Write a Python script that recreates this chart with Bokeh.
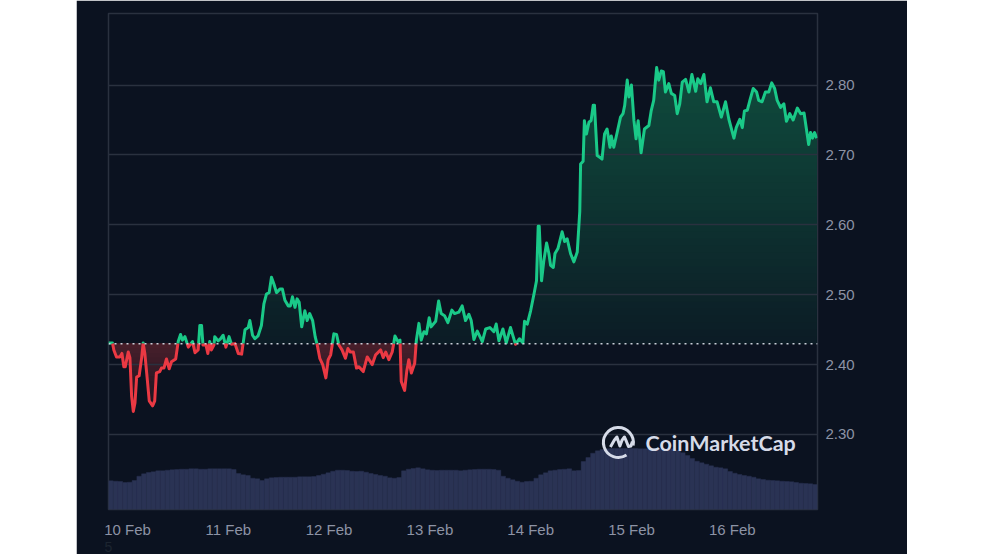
import numpy as np
import pandas as pd
from bokeh.embed import file_html
from bokeh.models import FixedTicker, Label, NumeralTickFormatter, Range1d, Span
from bokeh.plotting import figure
from bokeh.resources import INLINE

# Price: hours since the first sample, and price in USD
hours = [
    0.0, 0.95, 1.27, 1.9, 2.7, 3.2, 3.65, 4.0, 4.7, 5.1, 5.5, 5.9, 6.3, 6.7, 7.3, 7.9, 8.25, 8.65, 9.2, 9.7,
    10.5, 11.0, 11.4, 12.2, 12.6, 13.2, 13.8, 14.45, 15.0, 16.0, 16.6, 17.15, 17.6, 18.2, 19.0, 19.5, 20.0,
    20.6, 21.35, 21.75, 22.15, 22.5, 23.2, 23.65, 24.1, 24.5, 25.1, 25.3, 26.1, 26.7, 27.3, 27.95, 28.7,
    29.3, 30.1, 30.9, 31.7, 32.5, 33.25, 33.65, 34.3, 34.85, 35.6, 36.4, 37.0, 37.6, 38.25, 38.8, 39.4,
    40.0, 40.8, 41.4, 42.0, 42.8, 43.3, 43.8, 44.4, 44.9, 45.4, 46.0, 46.75, 47.3, 47.9, 48.6, 49.2, 49.7,
    50.3, 51.0, 51.75, 52.3, 52.9, 53.26, 53.65, 54.3, 54.85, 55.6, 56.4, 57.0, 57.6, 58.3, 59.05, 59.6,
    60.65, 61.6, 62.8, 63.6, 64.8, 65.4, 66.0, 66.75, 67.55, 68.2, 68.9, 69.4, 69.7, 70.5, 71.0, 71.5,
    72.1, 72.9, 73.3, 73.9, 74.45, 75.1, 75.7, 76.35, 76.8, 77.9, 78.6, 79.2, 80.0, 80.8, 81.75, 82.4,
    83.4, 84.2, 85.0, 85.8, 86.35, 87.0, 87.8, 89.0, 89.8, 90.8, 91.75, 92.3, 92.95, 93.9, 94.7, 95.7,
    96.9, 97.85, 98.65, 99.05, 99.7, 100.5, 101.3, 101.9, 102.3, 102.55, 103.1, 103.65, 104.3, 104.85,
    105.25, 105.9, 106.3, 107.0, 108.0, 108.6, 109.2, 110.0, 110.8, 111.6, 112.2, 112.4, 113.0, 113.3,
    113.8, 114.4, 114.9, 115.4, 115.7, 116.35, 117.1, 117.5, 118.1, 118.7, 119.4, 119.7, 120.3, 121.1,
    121.9, 122.5, 122.9, 123.5, 123.9, 124.5, 125.1, 125.6, 126.1, 126.8, 127.6, 128.65, 129.2, 129.8,
    130.5, 131.0, 131.6, 132.1, 132.6, 133.4, 134.0, 134.8, 135.4, 136.0, 136.6, 137.4, 138.2, 138.9,
    139.8, 140.3, 141.0, 141.75, 142.5, 143.3, 144.1, 144.9, 145.9, 146.9, 147.7, 148.9, 149.45, 150.3,
    150.9, 151.4, 152.1, 152.7, 153.5, 154.3, 154.8, 155.6, 156.4, 157.2, 157.9, 158.6, 159.2, 160.0,
    160.8, 161.4, 162.2, 163.0, 164.0, 164.8, 165.6, 166.7, 167.15, 167.6, 168.1, 168.6,
]
prices = [
    2.431, 2.431, 2.421, 2.411, 2.411, 2.416, 2.397, 2.397, 2.418, 2.410, 2.355, 2.333, 2.345, 2.382, 2.384,
    2.410, 2.431, 2.416, 2.381, 2.348, 2.341, 2.348, 2.388, 2.390, 2.395, 2.395, 2.408, 2.394, 2.404, 2.408,
    2.433, 2.443, 2.435, 2.440, 2.425, 2.429, 2.433, 2.417, 2.421, 2.456, 2.456, 2.428, 2.428, 2.416, 2.433,
    2.421, 2.428, 2.440, 2.434, 2.437, 2.442, 2.425, 2.440, 2.429, 2.430, 2.416, 2.415, 2.450, 2.453, 2.463,
    2.442, 2.437, 2.441, 2.456, 2.487, 2.501, 2.503, 2.525, 2.515, 2.503, 2.508, 2.508, 2.492, 2.484, 2.484,
    2.497, 2.482, 2.494, 2.489, 2.454, 2.477, 2.463, 2.473, 2.463, 2.440, 2.428, 2.409, 2.400, 2.381, 2.407,
    2.414, 2.428, 2.444, 2.443, 2.428, 2.421, 2.409, 2.423, 2.418, 2.418, 2.395, 2.397, 2.390, 2.411, 2.400,
    2.414, 2.421, 2.410, 2.418, 2.407, 2.418, 2.441, 2.433, 2.435, 2.376, 2.363, 2.390, 2.407, 2.388, 2.402,
    2.435, 2.459, 2.435, 2.447, 2.444, 2.467, 2.454, 2.462, 2.491, 2.473, 2.470, 2.460, 2.478, 2.473, 2.475,
    2.484, 2.463, 2.472, 2.463, 2.436, 2.448, 2.433, 2.451, 2.453, 2.447, 2.458, 2.434, 2.451, 2.431, 2.453,
    2.429, 2.437, 2.431, 2.462, 2.458, 2.477, 2.501, 2.520, 2.598, 2.598, 2.520, 2.549, 2.574, 2.559, 2.542,
    2.539, 2.559, 2.566, 2.590, 2.576, 2.580, 2.559, 2.547, 2.561, 2.619, 2.687, 2.691, 2.749, 2.730, 2.747,
    2.749, 2.771, 2.771, 2.699, 2.696, 2.694, 2.730, 2.737, 2.711, 2.727, 2.711, 2.732, 2.754, 2.759, 2.771,
    2.807, 2.783, 2.800, 2.749, 2.723, 2.749, 2.703, 2.737, 2.742, 2.763, 2.778, 2.825, 2.807, 2.820, 2.819,
    2.790, 2.802, 2.788, 2.785, 2.759, 2.773, 2.804, 2.808, 2.790, 2.815, 2.791, 2.809, 2.802, 2.815, 2.776,
    2.796, 2.776, 2.776, 2.754, 2.776, 2.751, 2.724, 2.739, 2.751, 2.739, 2.763, 2.764, 2.778, 2.795, 2.790,
    2.778, 2.776, 2.790, 2.790, 2.803, 2.795, 2.778, 2.768, 2.773, 2.748, 2.759, 2.750, 2.767, 2.759, 2.760,
    2.715, 2.732, 2.724, 2.732, 2.724,
]

# Volume bars, evenly spaced over the week (relative scale, the axis is hidden)
volumes = [
    0.287, 0.283, 0.280, 0.270, 0.273, 0.290, 0.333, 0.357, 0.370, 0.377, 0.387, 0.387, 0.393, 0.397, 0.400,
    0.403, 0.403, 0.407, 0.407, 0.403, 0.403, 0.407, 0.407, 0.407, 0.407, 0.407, 0.400, 0.360, 0.347, 0.340,
    0.313, 0.307, 0.290, 0.307, 0.317, 0.320, 0.323, 0.323, 0.323, 0.323, 0.327, 0.327, 0.327, 0.330, 0.340,
    0.353, 0.367, 0.383, 0.393, 0.393, 0.390, 0.383, 0.380, 0.383, 0.373, 0.360, 0.350, 0.340, 0.333, 0.317,
    0.313, 0.320, 0.387, 0.403, 0.410, 0.417, 0.407, 0.397, 0.393, 0.390, 0.393, 0.393, 0.393, 0.393, 0.387,
    0.393, 0.397, 0.400, 0.403, 0.403, 0.403, 0.400, 0.393, 0.333, 0.313, 0.297, 0.283, 0.273, 0.280, 0.283,
    0.313, 0.347, 0.367, 0.387, 0.393, 0.400, 0.403, 0.407, 0.387, 0.390, 0.480, 0.520, 0.563, 0.587, 0.600,
    0.607, 0.610, 0.610, 0.610, 0.610, 0.610, 0.610, 0.607, 0.607, 0.607, 0.607, 0.607, 0.607, 0.607, 0.607,
    0.590, 0.567, 0.540, 0.510, 0.483, 0.467, 0.453, 0.437, 0.423, 0.417, 0.407, 0.380, 0.363, 0.350, 0.340,
    0.333, 0.323, 0.307, 0.300, 0.293, 0.290, 0.287, 0.283, 0.280, 0.277, 0.270, 0.263, 0.260, 0.257, 0.250,
]

base_price = 2.43
y_ticks = [2.30, 2.40, 2.50, 2.60, 2.70, 2.80]
tick_dates = ["2025-02-10", "2025-02-11", "2025-02-12", "2025-02-13", "2025-02-14", "2025-02-15", "2025-02-16"]
tick_labels = ["10 Feb", "11 Feb", "12 Feb", "13 Feb", "14 Feb", "15 Feb", "16 Feb"]

BG = "#0b1220"
GRID = "#2a313f"
MUTED = "#8d93a5"
GREEN = "#1ac988"
RED = "#ea3943"
LOGO = "#d6dbe8"
VOLUME = "#2a3354"
FONT = "Liberation Sans"

HOUR = 3600 * 1000
start_ms = pd.Timestamp("2025-02-10").value // 10**6 - 4.52 * HOUR
span_hours = 168.8

hours = np.array(hours)
prices = np.array(prices)

p = figure(
    width=831, height=554,
    x_axis_type="datetime",
    x_range=Range1d(start_ms, start_ms + span_hours * HOUR),
    y_range=Range1d(2.1927, 2.9023),
    y_axis_location="right",
    background_fill_color=BG, border_fill_color=BG,
    outline_line_color=GRID, outline_line_width=1.5,
    min_border_left=32, min_border_right=90, min_border_top=13, min_border_bottom=45,
    tools="", toolbar_location=None, output_backend="svg",
)
p.margin = (0, 0, 0, 76)

# Axes
tick_ms = [int(pd.Timestamp(d).value // 10**6) for d in tick_dates]
p.xaxis.ticker = FixedTicker(ticks=tick_ms)
p.xaxis.major_label_overrides = dict(zip(tick_ms, tick_labels))
p.yaxis.ticker = FixedTicker(ticks=y_ticks)
p.yaxis.formatter = NumeralTickFormatter(format="0.00")
for ax in (p.xaxis[0], p.yaxis[0]):
    ax.axis_line_color = None
    ax.major_tick_line_color = None
    ax.minor_tick_line_color = None
    ax.major_label_text_color = MUTED
    ax.major_label_text_font = FONT
    ax.major_label_text_font_size = "15px"
p.xaxis.major_label_standoff = 5
p.yaxis.major_label_standoff = 2
p.xgrid.grid_line_color = None
p.ygrid.ticker = FixedTicker(ticks=y_ticks)
p.ygrid.grid_line_color = GRID
p.ygrid.grid_line_width = 1.5

# The stray dark "5" under the first date: a Label gets clipped to the frame, the axis label does not
p.xaxis.axis_label = "5"
p.xaxis.axis_label_align = "start"
p.xaxis.axis_label_standoff = 1
p.xaxis.axis_label_text_color = "#1d2530"
p.xaxis.axis_label_text_font = FONT
p.xaxis.axis_label_text_font_size = "14px"
p.xaxis.axis_label_text_font_style = "normal"

# Volume on its own hidden scale
p.extra_y_ranges["volume"] = Range1d(0, 4.96)
step = span_hours / len(volumes)
vol_x = start_ms + (np.arange(len(volumes)) + 0.5) * step * HOUR
p.vbar(vol_x, step * HOUR, volumes, 0, fill_color=VOLUME, line_color=VOLUME, line_width=0.4,
       y_range_name="volume", level="image")

# Gradient fills between the line and the base price, painted as stacked layers
dense_x = np.linspace(hours[0], hours[-1], 1500)
dense_y = np.interp(dense_x, hours, prices)
dense_ms = start_ms + dense_x * HOUR


def mix(c0, c1, t):
    return "#%02x%02x%02x" % tuple(int(round(a + (b - a) * t)) for a, b in zip(c0, c1))


levels = np.linspace(base_price, 2.83, 41)
for k in range(40, 0, -1):
    top = np.clip(dense_y, base_price, levels[k])
    p.varea(dense_ms, base_price, top, fill_color=mix((12, 27, 37), (15, 76, 61), k / 40), level="image")

levels = np.linspace(base_price, 2.33, 16)
for k in range(15, 0, -1):
    low = np.clip(dense_y, levels[k], base_price)
    p.varea(dense_ms, low, base_price, fill_color=mix((74, 31, 43), (24, 20, 32), k / 15), level="image")

p.add_layout(Span(location=base_price, dimension="width", line_color="#c9ced8", line_width=1.5, line_dash="2 4"))

# Split the line where it crosses the base price: green above, red below
line_x, line_y = [hours[0]], [prices[0]]
for h0, h1, v0, v1 in zip(hours[:-1], hours[1:], prices[:-1], prices[1:]):
    if (v0 - base_price) * (v1 - base_price) < 0:
        line_x.append(h0 + (h1 - h0) * (base_price - v0) / (v1 - v0))
        line_y.append(base_price)
    line_x.append(h1)
    line_y.append(v1)
line_x = start_ms + np.array(line_x) * HOUR
line_y = np.array(line_y)
p.line(line_x, np.where(line_y >= base_price, line_y, np.nan), line_color=GREEN, line_width=3, line_join="round")
p.line(line_x, np.where(line_y <= base_price, line_y, np.nan), line_color=RED, line_width=3, line_join="round")

# CoinMarketCap watermark
logo_x = start_ms + 121.4 * HOUR
logo_y = 2.2886
p.arc(logo_x, logo_y, radius=15, radius_units="screen", start_angle=-0.2, end_angle=-1.0,
      line_color=LOGO, line_width=3, level="annotation")
squiggle_dx = [-8, -4, -1.5, 0, 1.5, 3.5, 6, 8, 10, 12.5, 14]
squiggle_dy = [-4.5, 2.5, 5.5, 1, -3.5, 2, 5.5, 1, -4, -3.5, 1]
p.line(logo_x + np.array(squiggle_dx) * 0.2381 * HOUR, logo_y + np.array(squiggle_dy) / 699.0,
       line_color=LOGO, line_width=3, line_join="round", level="annotation")
p.add_layout(Label(x=537, y=54, x_units="screen", y_units="screen", text="CoinMarketCap",
                   text_color=LOGO, text_font="Lato", text_font_size="21.5px", text_font_style="bold"))

open("out.html", "w").write(file_html(p, INLINE))
